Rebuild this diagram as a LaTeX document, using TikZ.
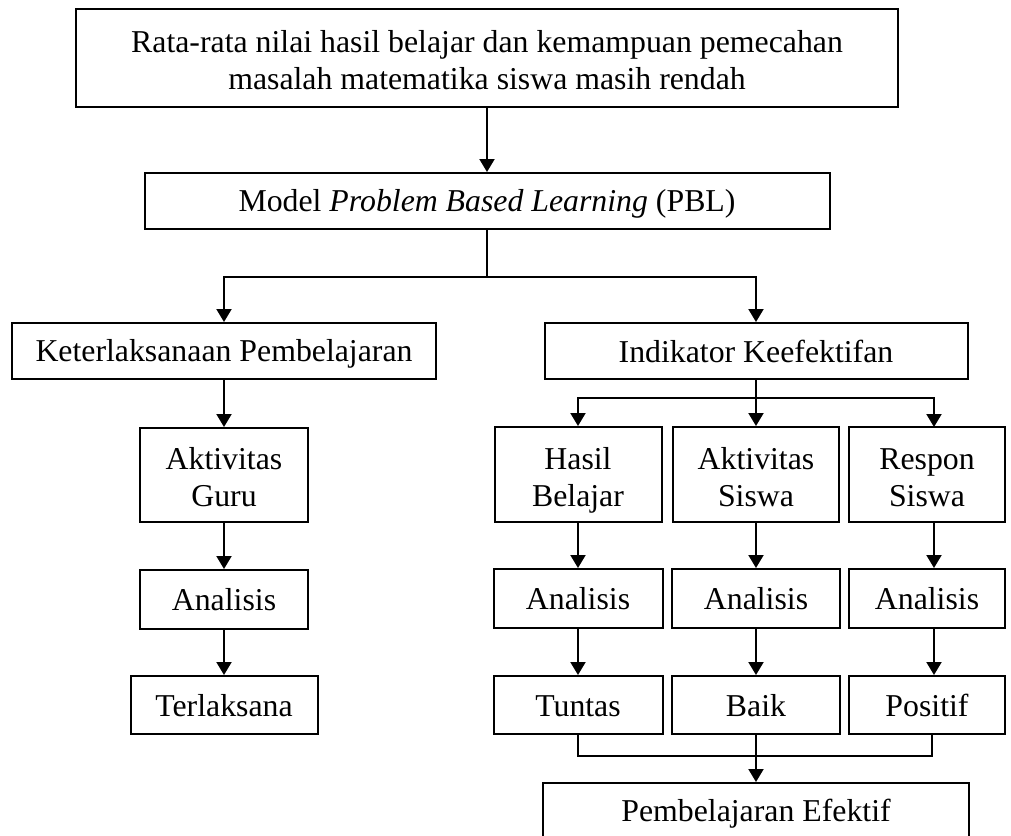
\documentclass[tikz,border=0pt]{standalone}
\usepackage{fontspec}
\setmainfont{Liberation Serif}
\usetikzlibrary{arrows.meta}
\newcommand\mystrut{\rule[-5pt]{0pt}{32pt}}
\newcommand\twol[2]{\raisebox{-1pt}[0pt][0pt]{\begin{tabular}{@{}c@{}}#1\\#2\end{tabular}}}
\begin{document}
\begin{tikzpicture}[x=1pt,y=-1pt,
  box/.style={draw,line width=2pt,inner sep=0pt,align=center,
    font=\fontsize{31.8}{37}\selectfont,
    execute at begin node=\mystrut, execute at end node=\mystrut},
  twoline/.style={align=none,execute at begin node={},execute at end node={}},
  conn/.style={line width=2pt},
  arr/.style={line width=2pt,-{Triangle[width=15pt,length=13pt]}}]
\useasboundingbox (0,0) rectangle (1011,835);
\clip (0,0) rectangle (1011,835);
% nodes
\node[box,twoline,line width=2.7pt,minimum width=822pt,minimum height=98pt] (top) at (487,58)
  {\twol{Rata-rata nilai hasil belajar dan kemampuan pemecahan}{masalah matematika siswa masih rendah}};
\node[box,minimum width=685pt,minimum height=56pt] (pbl) at (487,201)
  {Model \textit{Problem Based Learning} (PBL)};
\node[box,minimum width=424pt,minimum height=56pt] (ket) at (224,351)
  {Keterlaksanaan Pembelajaran};
\node[box,minimum width=423pt,minimum height=56pt] (ind) at (756,351)
  {Indikator Keefektifan};
% left column
\node[box,twoline,minimum width=168pt,minimum height=94pt] (ag) at (224,475) {\twol{Aktivitas}{Guru}};
\node[box,minimum width=168pt,minimum height=59pt] (anl) at (224,599.5) {Analisis};
\node[box,minimum width=187pt,minimum height=58pt] (ter) at (224,705) {Terlaksana};
% right columns
\node[box,twoline,minimum width=167pt,minimum height=95pt] (hb) at (578,474.5) {\twol{Hasil}{Belajar}};
\node[box,twoline,minimum width=166pt,minimum height=95pt] (as) at (756,474.5) {\twol{Aktivitas}{Siswa}};
\node[box,twoline,minimum width=156pt,minimum height=95pt] (rs) at (927,474.5) {\twol{Respon}{Siswa}};
\node[box,minimum width=169pt,minimum height=59pt] (an1) at (578,598.5) {Analisis};
\node[box,minimum width=168pt,minimum height=59pt] (an2) at (756,598.5) {Analisis};
\node[box,minimum width=156pt,minimum height=59pt] (an3) at (927,598.5) {Analisis};
\node[box,minimum width=169pt,minimum height=58pt] (tu) at (578,705) {Tuntas};
\node[box,minimum width=168pt,minimum height=58pt] (ba) at (756,705) {Baik};
\node[box,minimum width=156pt,minimum height=58pt] (po) at (927,705) {Positif};
\node[box,anchor=north,minimum width=426pt,minimum height=56pt] (fin) at (756,782)
  {Pembelajaran Efektif};
% connectors
\draw[arr] (top.south) -- (pbl.north);
\coordinate (j1) at (487,277);
\draw[conn] (pbl.south) -- (j1);
\draw[arr] (j1) -| (ket.north);
\draw[arr] (j1) -| (ind.north);
\draw[arr] (ket.south) -- (ag.north);
\draw[arr] (ag.south) -- (anl.north);
\draw[arr] (anl.south) -- (ter.north);
\coordinate (j2) at (756,398);
\coordinate (rsin) at (934,427);
\draw[conn] (ind.south) -- (j2);
\draw[arr] (j2) -| (hb.north);
\draw[arr] (j2) -- (as.north);
\draw[arr] (j2) -| (rsin);
\draw[arr] (hb.south) -- (an1.north);
\draw[arr] (as.south) -- (an2.north);
\draw[arr] ([xshift=7pt]rs.south) -- ([xshift=7pt]an3.north);
\draw[arr] (an1.south) -- (tu.north);
\draw[arr] (an2.south) -- (ba.north);
\draw[arr] ([xshift=7pt]an3.south) -- ([xshift=7pt]po.north);
\coordinate (j3) at (756,756);
\draw[conn] (tu.south) |- (j3) -| ([xshift=5pt]po.south);
\draw[arr] (ba.south) -- (fin.north);
\end{tikzpicture}
\end{document}
